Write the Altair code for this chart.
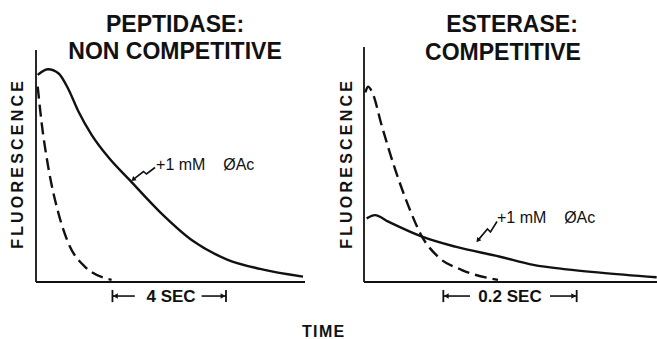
import altair as alt
import pandas as pd

# ---------------- data ----------------
# Left panel: Peptidase, non competitive (time in seconds)
left_solid_t = [0.06, 0.43, 0.79, 1.14, 1.49, 1.97, 2.55, 3.32, 4.38, 5.55, 6.75, 7.91, 9.43]
left_solid_f = [88.5, 90.9, 89.2, 82.5, 73.1, 62.8, 53.4, 43.4, 29.9, 17.5, 9.6, 5.6, 2.3]
left_dashed_t = [0.06, 0.20, 0.43, 0.79, 1.14, 1.73, 2.67]
left_dashed_f = [83.5, 67.9, 49.3, 29.5, 16.7, 6.5, 0.9]

# Right panel: Esterase, competitive (time in seconds)
right_dashed_t = [0.002, 0.006, 0.012, 0.027, 0.047, 0.067, 0.087, 0.111, 0.147, 0.201]
right_dashed_f = [81.0, 83.5, 81.3, 66.4, 47.9, 32.2, 19.4, 10.8, 5.1, 0.9]
right_solid_t = [0.004, 0.0165, 0.0365, 0.087, 0.137, 0.204, 0.254, 0.304, 0.354, 0.439]
right_solid_f = [27.2, 28.6, 25.8, 19.4, 15.1, 10.8, 7.3, 5.4, 4.0, 2.0]

# texts
left_title = ["PEPTIDASE:", "NON COMPETITIVE"]
right_title = ["ESTERASE:", "COMPETITIVE"]
y_label = "F\u2009L\u2009U\u2009O\u2009R\u2009E\u2009S\u2009C\u2009E\u2009N\u2009C\u2009E"
curve_label = "+1\u00a0mM\u00a0\u00a0\u00a0\u00a0ØAc"
left_bar_label = "4 SEC"
right_bar_label = "0.2 SEC"
x_label = "T\u200aI\u200aM\u200aE"

# scale-bar extents (seconds)
left_bar = [2.70, 6.71]      # 4 s
right_bar = [0.119, 0.319]   # 0.2 s

# squiggly pointer paths (time, fluorescence)
left_ptr_t = [4.203, 3.902, 3.796, 3.45]
left_ptr_f = [48.93, 46.15, 47.22, 44.0]
right_ptr_t = [0.1995, 0.1897, 0.1852, 0.1715]
right_ptr_f = [25.85, 21.37, 22.65, 18.0]

# ---------------- scales ----------------
INK = "#111111"
FONT = "Liberation Sans"
Y_SCALE = alt.Scale(domain=[0, 100], nice=False, zero=False)
L_SCALE = alt.Scale(domain=[0, 9.5], range=[0, 269], nice=False, zero=False)
R_SCALE = alt.Scale(domain=[0, 0.4395], range=[328, 621], nice=False, zero=False)


def panel(xs, xmax, ymax, solid_t, solid_f, dashed_t, dashed_f, titles, title_pos,
          ylab_t, label_pos, ptr_t, ptr_f, ptr_angle, bar, bar_gap, bar_text, bar_center,
          extra=None):
    X = lambda f: alt.X(f, type="quantitative", scale=xs, axis=None)
    Y = lambda f: alt.Y(f, type="quantitative", scale=Y_SCALE, axis=None)

    axis_v = alt.Chart(pd.DataFrame({"t": [0.0], "f0": [0.0], "f1": [ymax]})).mark_rule(
        color=INK, strokeWidth=1.8).encode(x=X("t"), y=Y("f0"), y2="f1")
    axis_h = alt.Chart(pd.DataFrame({"t0": [0.0], "t1": [xmax], "f": [0.0]})).mark_rule(
        color=INK, strokeWidth=1.8).encode(x=X("t0"), x2="t1", y=Y("f"))

    solid = alt.Chart(pd.DataFrame({"t": solid_t, "f": solid_f})).mark_line(
        color=INK, strokeWidth=2.4, interpolate="monotone").encode(x=X("t"), y=Y("f"))
    dashed = alt.Chart(pd.DataFrame({"t": dashed_t, "f": dashed_f})).mark_line(
        color=INK, strokeWidth=2.4, strokeDash=[12, 6], interpolate="monotone").encode(
        x=X("t"), y=Y("f"))

    tdf = pd.DataFrame({"text": titles, "t": [p[0] for p in title_pos], "f": [p[1] for p in title_pos]})
    title = alt.Chart(tdf).mark_text(font=FONT, fontSize=23, fontWeight="bold", color=INK,
                                     align="center", baseline="alphabetic").encode(
        x=X("t"), y=Y("f"), text="text")

    ylab = alt.Chart(pd.DataFrame({"text": [y_label], "t": [ylab_t], "f": [50.0]})).mark_text(
        font=FONT, fontSize=16, fontWeight="bold", color=INK, angle=270,
        align="center", baseline="middle").encode(x=X("t"), y=Y("f"), text="text")

    lab = alt.Chart(pd.DataFrame({"text": [curve_label], "t": [label_pos[0]], "f": [label_pos[1]]})).mark_text(
        font=FONT, fontSize=16, color=INK, align="left", baseline="alphabetic").encode(
        x=X("t"), y=Y("f"), text="text")

    ptr = alt.Chart(pd.DataFrame({"t": ptr_t, "f": ptr_f, "i": list(range(len(ptr_t)))})).mark_line(
        color=INK, strokeWidth=1.6).encode(x=X("t"), y=Y("f"), order="i:Q")
    ptr_head = alt.Chart(pd.DataFrame({"t": [ptr_t[-1]], "f": [ptr_f[-1]]})).mark_point(
        shape="triangle", angle=ptr_angle, filled=True, size=28, color=INK, opacity=1).encode(
        x=X("t"), y=Y("f"))

    # scale bar
    b0, b1 = bar
    g0, g1 = bar_gap
    bars = alt.Chart(pd.DataFrame({"t": [b0, b1], "f0": [-3.4, -3.4], "f1": [-8.6, -8.6]})).mark_rule(
        color=INK, strokeWidth=1.8).encode(x=X("t"), y=Y("f0"), y2="f1")
    blines = alt.Chart(pd.DataFrame({"t0": [b0, g1], "t1": [g0, b1], "f": [-6.0, -6.0]})).mark_rule(
        color=INK, strokeWidth=1.6).encode(x=X("t0"), x2="t1", y=Y("f"))
    head_l = alt.Chart(pd.DataFrame({"t": [b0], "f": [-6.0]})).mark_point(
        shape="triangle-left", filled=True, size=30, color=INK, opacity=1, xOffset=3).encode(
        x=X("t"), y=Y("f"))
    head_r = alt.Chart(pd.DataFrame({"t": [b1], "f": [-6.0]})).mark_point(
        shape="triangle-right", filled=True, size=30, color=INK, opacity=1, xOffset=-3).encode(
        x=X("t"), y=Y("f"))
    btext = alt.Chart(pd.DataFrame({"text": [bar_text], "t": [bar_center], "f": [-8.4]})).mark_text(
        font=FONT, fontSize=17, fontWeight="bold", color=INK, align="center",
        baseline="alphabetic").encode(x=X("t"), y=Y("f"), text="text")

    layers = [axis_v, axis_h, solid, dashed, title, ylab, lab, ptr, ptr_head,
              bars, blines, head_l, head_r, btext]
    if extra is not None:
        layers.append(extra(X, Y))
    return alt.layer(*layers)


def time_label(X, Y):
    return alt.Chart(pd.DataFrame({"text": [x_label], "t": [10.14], "f": [-23.5]})).mark_text(
        font=FONT, fontSize=16, fontWeight="bold", color=INK, align="center",
        baseline="alphabetic").encode(x=X("t"), y=Y("f"), text="text")


left = panel(L_SCALE, 9.5, 99.1, left_solid_t, left_solid_f, left_dashed_t, left_dashed_f,
             left_title, [(4.91, 107.05), (4.91, 95.5)], -0.625, (4.24, 47.86),
             left_ptr_t, left_ptr_f, 231, left_bar, (3.49, 5.85), left_bar_label, 4.77,
             extra=time_label)

right = panel(R_SCALE, 0.4395, 100.4, right_solid_t, right_solid_f, right_dashed_t, right_dashed_f,
              right_title, [(0.222, 107.0), (0.2085, 94.9)], -0.026, (0.1995, 25.2),
              right_ptr_t, right_ptr_f, 219, right_bar, (0.159, 0.279), right_bar_label, 0.219)

chart = alt.layer(left, right).resolve_scale(x="independent").properties(
    width=621, height=234,
    padding={"left": 36, "top": 48, "right": 0, "bottom": 57},
    autosize=alt.AutoSizeParams(type="none"),
    background="white",
).configure_view(stroke=None)

chart.save("out.html", embed_options={"renderer": "svg", "actions": False})
